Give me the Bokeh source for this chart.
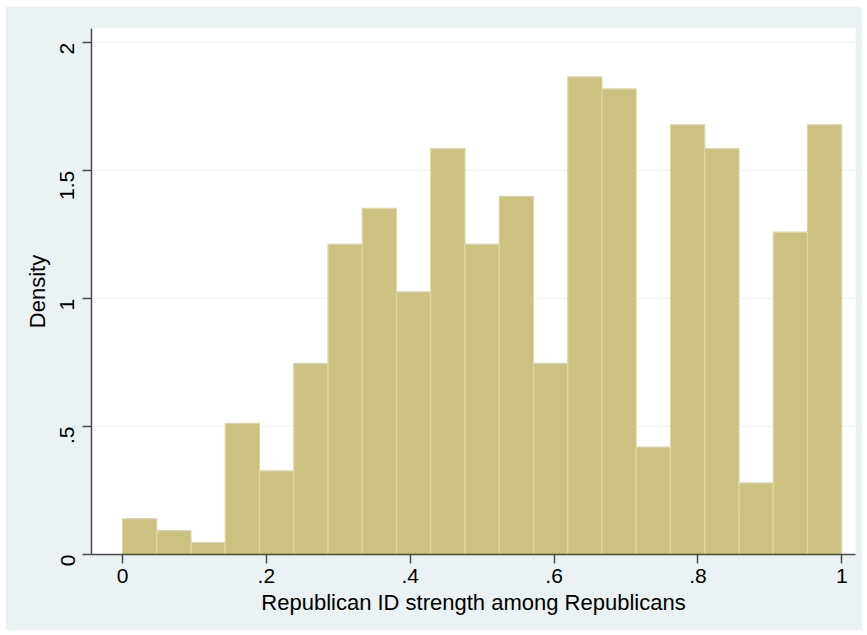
from bokeh.plotting import figure
from bokeh.models import FixedTicker, Range1d, ColumnDataSource
from bokeh.embed import file_html
from bokeh.resources import INLINE
import math

# Histogram: 21 equal-width bins on [0, 1], density scale
bin_left = [i / 21 for i in range(21)]
bin_right = [(i + 1) / 21 for i in range(21)]
density = [0.140, 0.093, 0.047, 0.513, 0.327, 0.747, 1.213, 1.353, 1.027, 1.587,
           1.213, 1.400, 0.747, 1.867, 1.820, 0.420, 1.680, 1.587, 0.280, 1.260, 1.680]

x_ticks = [0, 0.2, 0.4, 0.6, 0.8, 1.0]
x_tick_labels = ["0", ".2", ".4", ".6", ".8", "1"]
y_ticks = [0, 0.5, 1.0, 1.5, 2.0]
y_tick_labels = ["0", ".5", "1", "1.5", "2"]

x_title = "Republican ID strength among Republicans"
y_title = "Density"

BG = "#EAF2F3"
FONT = "Liberation Sans"

p = figure(width=857, height=624, output_backend="svg", toolbar_location=None,
           x_range=Range1d(-0.0431, 1.0191), y_range=Range1d(0, 2.0563),
           min_border_left=86, min_border_right=7, min_border_top=22, min_border_bottom=76)
p.margin = (6, 5, 5, 5)
p.border_fill_color = BG
p.background_fill_color = "white"
p.outline_line_color = None

src = ColumnDataSource(dict(left=bin_left, right=bin_right, top=density, bottom=[0] * len(density)))
p.quad(left="left", right="right", top="top", bottom="bottom", source=src,
       fill_color="#CAC27E", line_color="#DCD7A4", line_width=1.2)

# grid
p.xgrid.grid_line_color = None
p.ygrid.ticker = FixedTicker(ticks=y_ticks)
p.ygrid.grid_line_color = BG
p.ygrid.grid_line_width = 1.2

for ax in (p.xaxis[0], p.yaxis[0]):
    ax.axis_line_color = "#4a4a4a"
    ax.axis_line_width = 1.5
    ax.major_tick_line_color = "#4a4a4a"
    ax.major_tick_line_width = 1.5
    ax.major_tick_out = 9
    ax.major_tick_in = 0
    ax.minor_tick_line_color = None
    ax.major_label_text_font = FONT
    ax.major_label_text_font_size = "21px"
    ax.major_label_text_color = "black"
    ax.axis_label_text_font = FONT
    ax.axis_label_text_font_size = "22px"
    ax.axis_label_text_font_style = "normal"
    ax.axis_label_text_color = "black"

p.xaxis.ticker = FixedTicker(ticks=x_ticks)
p.xaxis.major_label_overrides = {t: l for t, l in zip(x_ticks, x_tick_labels)}
p.xaxis.major_label_standoff = 5
p.xaxis.axis_label = x_title
p.xaxis.axis_label_standoff = 4

p.yaxis.ticker = FixedTicker(ticks=y_ticks)
p.yaxis.major_label_overrides = {t: l for t, l in zip(y_ticks, y_tick_labels)}
p.yaxis.major_label_orientation = math.pi / 2
p.yaxis.major_label_standoff = 15
p.yaxis.axis_label = y_title
p.yaxis.axis_label_standoff = 1

open("out.html", "w").write(file_html(p, INLINE))
